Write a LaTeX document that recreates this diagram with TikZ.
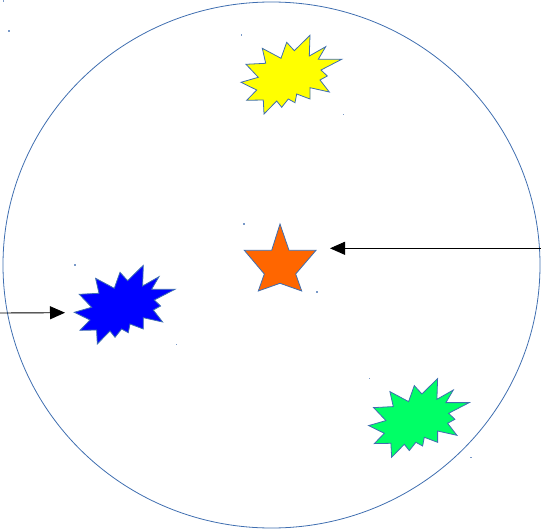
\documentclass[tikz,border=0pt]{standalone}
\usetikzlibrary{arrows.meta}
\definecolor{rimblue}{HTML}{3F6EB0}
\definecolor{burstyellow}{HTML}{FFFF00}
\definecolor{burstblue}{HTML}{0000FF}
\definecolor{burstgreen}{HTML}{00FF66}
\definecolor{starorange}{HTML}{FF6600}
\tikzset{
  burst/.style={draw=rimblue,line width=0.8pt,line join=miter},
  pointer/.style={draw=black,line width=0.9pt,-{Triangle[length=15pt,width=13pt]}},
  speck/.style={fill=rimblue!70}
}
% the explosion outline, centred on (0,0)
\newcommand{\burstshape}{(-49,7.3) -- (-31.7,2.3) -- (-44,-10.7) -- (-24.3,-11.7) -- (-27.7,-26.7) -- (-9,-16.7) -- (-3.3,-32.7) -- (4.3,-24.3) -- (20,-39.7) -- (19.3,-19) -- (35.7,-28.3) -- (28.3,-15.7) -- (51.7,-15.7) -- (31,-5) -- (37.3,1) -- (30,5) -- (39.3,17) -- (20,12.7) -- (20,24) -- (6.7,19) -- (5,27.7) -- (-1.7,24) -- (-8.3,32.3) -- (-13.3,26) -- (-26,39) -- (-26.7,25) -- (-43.3,25.3) -- (-33.3,15) -- cycle}
\begin{document}
\begin{tikzpicture}[x=1pt,y=-1pt]
\useasboundingbox (0,0) rectangle (541,532);
% outer ring
\draw[rimblue,line width=0.8pt] (271.5,265) ellipse [x radius=268.5,y radius=263];
% bursts
\draw[burst,fill=burstyellow,shift={(290,75)}] \burstshape;
\draw[burst,fill=burstblue,shift={(123.3,305)}] \burstshape;
\draw[burst,fill=burstgreen,shift={(417.6,418.3)}] \burstshape;
% star
\draw[burst,fill=starorange] (280,224) -- (289,250.3) -- (316,250.3) -- (295.7,274) -- (301.7,291) -- (280,283.3) -- (258.3,291) -- (264.3,274) -- (244.3,250.3) -- (271.7,250.3) -- cycle;
% arrows
\coordinate (rightend) at (541,248.3);
\coordinate (startip) at (330,248.3);
\coordinate (leftend) at (0,313);
\coordinate (bursttip) at (65,312.7);
\draw[pointer] (rightend) -- (startip);
\draw[pointer] (leftend) -- (bursttip);
% leftover handle marks
\foreach \p in {(3.3,1),(9,31),(241.7,35),(343.3,114.3),(244,224),(317,292),(75,265),(176.7,344.3),(369.3,378.3),(471,457.7)}
  \fill[speck] \p ++(-0.7,-0.7) rectangle ++(1.4,1.4);
\end{tikzpicture}
\end{document}
